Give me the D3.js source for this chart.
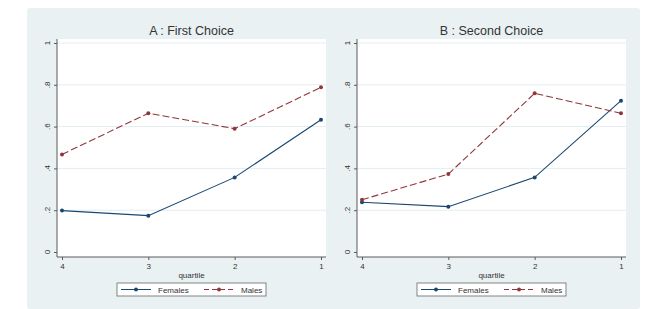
<!DOCTYPE html>
<html>
<head>
<meta charset="utf-8">
<script src="https://cdn.jsdelivr.net/npm/d3@7"></script>
<style>
  body { margin: 0; background: #fff; }
  text { font-family: "Liberation Sans", Arial, sans-serif; }
</style>
</head>
<body>
<div id="chart"></div>
<script>
// quartiles in the order they appear on the x axis
const quartiles = [4, 3, 2, 1];
const yTicks = [0, 0.2, 0.4, 0.6, 0.8, 1];
const yTickLabels = ['0', '.2', '.4', '.6', '.8', '1'];

// panel A : first choice
const femalesA = [0.198, 0.174, 0.357, 0.633];
const malesA   = [0.467, 0.664, 0.590, 0.788];

// panel B : second choice
const femalesB = [0.238, 0.217, 0.357, 0.724];
const malesB   = [0.250, 0.373, 0.759, 0.664];

const panels = [
  { title: 'A : First Choice', females: femalesA, males: malesA },
  { title: 'B : Second Choice', females: femalesB, males: malesB }
];

const width = 646, height = 309;
const navy = '#1a476f', maroon = '#90353b';
const axisColor = '#5a5a5a', textColor = '#333';

let svg = d3.select('#chart')
            .append('svg')
            .attr('width', width)
            .attr('height', height);

// graph background
svg.append('rect')
   .attr('x', 27).attr('y', 8)
   .attr('width', 613).attr('height', 301)
   .attr('rx', 3)
   .attr('fill', '#eaf1f3');

function drawPanel(p, i) {
  const ox = i * 300;
  const g = svg.append('g').attr('transform', `translate(${ox}, 0)`);

  // plot region
  const left = 57, right = 326, top = 39, bottom = 257;

  let xscale = d3.scaleLinear().domain([4, 1]).range([62, 321]);
  let yscale = d3.scaleLinear().domain([0, 1]).range([252, 43]);

  g.append('rect')
   .attr('x', left).attr('y', top)
   .attr('width', right - left).attr('height', bottom - top)
   .attr('fill', '#fff');

  // gridlines
  g.selectAll('.grid')
   .data(yTicks.slice(1))
   .enter()
   .append('line')
   .attr('x1', left).attr('x2', right)
   .attr('y1', d => yscale(d)).attr('y2', d => yscale(d))
   .attr('stroke', '#e4edf0')
   .attr('stroke-width', 1);

  // title
  g.append('text')
   .attr('x', (left + right) / 2)
   .attr('y', 35)
   .style('text-anchor', 'middle')
   .style('font-size', '12.5px')
   .attr('fill', textColor)
   .text(p.title);

  // y axis
  let yaxis = g.append('g')
    .attr('transform', `translate(${left}, 0)`)
    .call(d3.axisLeft(yscale).tickValues(yTicks).tickSize(3).tickFormat(''));
  yaxis.select('.domain').attr('d', `M0,${top}V${bottom}`);
  yaxis.selectAll('path, line').attr('stroke', axisColor);

  g.selectAll('.ylab')
   .data(yTicks)
   .enter()
   .append('text')
   .attr('transform', d => `translate(${left - 7}, ${yscale(d)}) rotate(-90)`)
   .style('text-anchor', 'middle')
   .style('font-size', '8px')
   .attr('fill', textColor)
   .text((d, k) => yTickLabels[k]);

  // x axis
  let xaxis = g.append('g')
    .attr('transform', `translate(0, ${bottom})`)
    .call(d3.axisBottom(xscale).tickValues(quartiles).tickSize(3).tickFormat(d3.format('d')));
  xaxis.select('.domain').attr('d', `M${left},0H${right}`);
  xaxis.selectAll('path, line').attr('stroke', axisColor);
  xaxis.selectAll('text')
       .attr('y', 6)
       .style('font-size', '8px')
       .attr('fill', textColor);

  g.append('text')
   .attr('x', (left + right) / 2)
   .attr('y', 278)
   .style('text-anchor', 'middle')
   .style('font-size', '8px')
   .attr('fill', textColor)
   .text('quartile');

  // lines
  const series = [
    { values: p.females, color: navy, dash: null },
    { values: p.males, color: maroon, dash: '7,3' }
  ];

  let line = d3.line()
    .x((d, k) => xscale(quartiles[k]))
    .y(d => yscale(d));

  series.forEach(s => {
    g.append('path')
     .datum(s.values)
     .attr('d', line)
     .attr('fill', 'none')
     .attr('stroke', s.color)
     .attr('stroke-width', 1.1)
     .attr('stroke-dasharray', s.dash);

    g.selectAll(null)
     .data(s.values)
     .enter()
     .append('circle')
     .attr('cx', (d, k) => xscale(quartiles[k]))
     .attr('cy', d => yscale(d))
     .attr('r', 2)
     .attr('fill', s.color);
  });

  // legend
  const lg = g.append('g');
  lg.append('rect')
    .attr('x', 117).attr('y', 283)
    .attr('width', 149).attr('height', 13)
    .attr('fill', '#fff')
    .attr('stroke', '#666')
    .attr('stroke-width', 0.8);

  const legendData = [
    { label: 'Females', color: navy, dash: null, x: 121 },
    { label: 'Males', color: maroon, dash: '5,3', x: 204 }
  ];
  legendData.forEach(d => {
    lg.append('line')
      .attr('x1', d.x).attr('x2', d.x + 30)
      .attr('y1', 289.5).attr('y2', 289.5)
      .attr('stroke', d.color)
      .attr('stroke-width', 1)
      .attr('stroke-dasharray', d.dash);
    lg.append('circle')
      .attr('cx', d.x + 15).attr('cy', 289.5)
      .attr('r', 2)
      .attr('fill', d.color);
    lg.append('text')
      .attr('x', d.x + 37).attr('y', 292.5)
      .style('font-size', '8px')
      .attr('fill', textColor)
      .text(d.label);
  });
}

panels.forEach(drawPanel);
</script>
</body>
</html>
